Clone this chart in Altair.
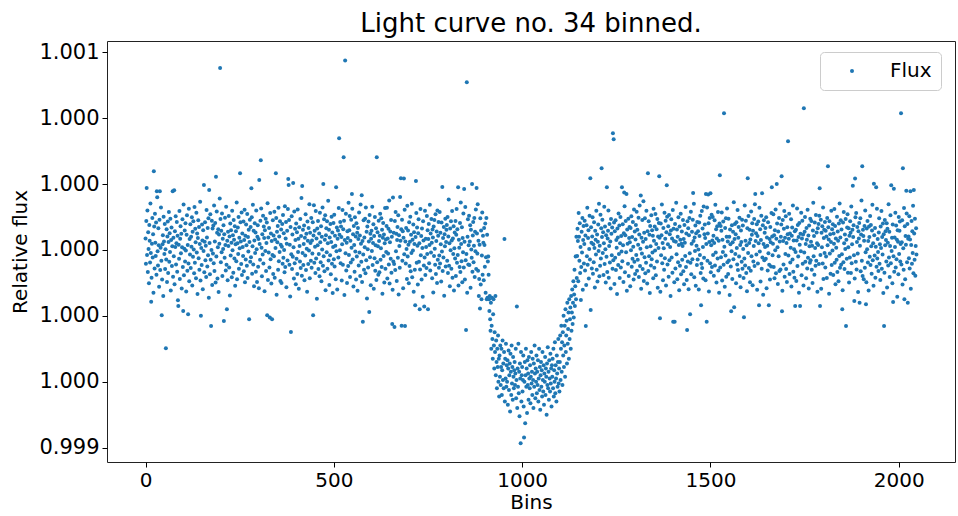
import altair as alt
import pandas as pd

# Relative flux, in parts per million from 1.0, one value per bin
pre_1 = [
    35, -42, 88, 12, -15, 120, -67, 54, 3, -101, 76, 28, -38, 141, -9, 62, -84, 19, 97, -23,
    48, -130, 5, 71, -56, 110, 22, -18, 83, -75, 39, 160, -4, -47, 66, 14, -112, 92, 31, -61,
    7, 129, -33, 58, -90, 17, 45, -140, 101, 26, -12, 79, -58, 2, 134, -29, 63, -97, 41, 86,
    -70, 24, 115, -36, 51, -6, 95, -123, 30, 68, -49, 11, 152, -81, 37, -19, 74, -104, 57, 9,
    102, -44, 20, 85, -66, 43, -153, 61, 16, -27, 118, -88, 34, 72, -10, 49, -117, 8, 93, -52,
    27, 138, -77, 4, 59, -35, 81, -2, -126, 46, 105, -63, 15, 69, -41, 125, -95, 33, -14, 78,
    -55, 40, 10, 99, -108, 55, -21, 87, 1, -71, 130, -39, 64, 23, -86, 113, -8, 50, -134, 36,
    90, -25, 70, -60, 18, 146, -93, 42, 6, -46, 77, 29, -119, 60, -3, 107, -68, 25, 84, -31,
    13, -82, 121, 38, -50, 67, -16, 96, -145, 53, 21, -74, 108, -30, 44, 0, 89, -106, 65, -11,
    74, -40, 135, -64, 26, 82, -99, 32, -20, 117, 52, -87, 8, 63, -128, 47, 19, 156, -54, 94,
    -37, 58, -7, 111, -79, 34, 3, 75, -115, 48, -24, 98, 15, -62, 131, -45, 66, 28, -92, 55,
    12, 103, -53, 41, -138, 80, -17, 60, 22, -83, 119, -1, 45, -69, 91, 31, -26, 72, -109, 17,
    57, -34, 144, -89, 20, 68, -12, 100, -57, 37, 5, -121, 84, 26, -43, 114, -76, 50, 9, -18,
    86, -65, 30, 122, -98, 43, -29, 77, 14, -48, 109, -85, 39, -5, 61, -132, 24, 92, -36, 70,
    -22, 46, 99, -72, 11, 137, -44, 58, -110, 29, 81, -9, 53, -66, 120, 2, -97, 40, 75, -51,
]
pre_2 = [
    33, -116, 64, 18, -30, 89, -59, 126, 7, -80, 48, -14, 104, -41, 71, 36, -125, 60, -3, 95,
    -64, 21, 83, -37, 142, -91, 38, -8, 67, -53, 15, 112, -28, 50, -102, 27, 78, -15, 90, -73,
    44, -19, 116, -84, 32, 6, -47, 97, -136, 55, 23, 73, -60, 128, -34, 41, -6, 87, -94, 16,
    62, -100, 10, 79, -42, 106, -24, 51, 0, -68, 133, -52, 35, 85, -113, 19, 58, -32, 124, -77,
    25, 91, -45, 16, -141, 70, 39, -13, 102, -58, 47, -21, 76, 8, -87, 117, -40, 64, 30, -104,
    80, -27, 54, -73, 123, -6, 34, -118, 69, 12, -35, 94, -55, 42, 158, -78, 25, -9, 61, -46,
    18, 74, -92, 37, -17, 108, -61, 49, 4, -127, 86, 28, -43, 67, -2, 139, -86, 52, 21, -33,
    97, -54, 29, -11, 84, -103, 44, 136, -39, 58, 10, -70, 118, -26, 35, -148, 65, 14, 88, -58,
    -12, 50, -80, 113, 23, -37, 72, -95, 40, 1, 129, -48, 56, -19, 93, -65, 31, 105, -122, 45,
    66, -7, 87, -57, 20, 149, -32, 61, -106, 38, -16, 79, -74, 24, 101, -42, 53, -131, 9, 82,
    -28, 107, -50, 43, 13, -89, 96, -4, 68, -120, 34, 59, -23, 127, -67, 46, -1, 85, -40, 71,
    39, -93, 17, 121, -45, 63, -26, 89, -137, 30, 76, -10, 110, -62, 22, -100, 57, 36, -49, 143,
    -15, 60, 103, -82, 28, -38, 92, 7, -56, 125, -29, 48, -111, 73, 15, -66, 99, -5, 41, -90,
    81, -20, 52, -124, 67, 33, -47, 114, -8, 44, -79, 138, 19, -36, 75, -97, 27, 62, -14, 90,
    -60, 38, 8, 95, -71, 129, -31, 55, -147, 71, 2, -53, 86, 26, -84, 106, -22, 49, -107, 34,
]
pre_3 = [
    58, -3, 131, -46, 21, 78, -118, 42, -25, 100, -63, 14, 66, -91, 118, -37, 54, 11, -75, 89,
    27, -68, 43, 110, -30, 5, 96, -52, 61, -133, 37, 82, -18, 47, -99, 20, 127, -57, 32, -6,
    73, 128, -87, 35, -11, 64, -44, 150, -102, 23, 56, -27, 91, -69, 40, 4, -121, 83, -35, 52,
    -43, 19, 88, -61, 115, -4, 49, -94, 30, 70, -24, 105, -135, 45, 12, -54, 98, 28, -78, 63,
    10, 92, -33, 57, -116, 37, 80, -13, 122, -72, 26, -41, 67, 3, -88, 134, -20, 59, 16, -101,
    84, -49, 25, 101, -65, 46, -9, 140, -83, 31, -2, 77, -127, 54, 18, -60, 90, 39, -28, 112,
    -39, 68, 13, -105, 51, 93, -36, 20, 74, -59, 124, -16, 42, -90, 65, 6, -142, 87, 29, -47,
    47, -23, 119, -76, 34, 9, -55, 103, -12, 60, -119, 33, 79, -40, 15, 137, -62, 50, -8, 94,
    22, -86, 62, 38, -129, 71, -18, 91, 4, -45, 108, -73, 27, 56, -100, 120, -30, 43, 85, -54,
    -17, 115, -41, 52, 17, -96, 83, -5, 132, -64, 36, -23, 70, -139, 48, 11, 95, -50, 24, 61,
    76, -33, 100, -70, 41, 153, -48, 20, -110, 65, -1, 87, -57, 29, 118, -84, 35, -12, 72, -123,
    5, 53, -26, 88, -79, 46, 124, -39, 63, -15, 99, -108, 31, 7, -52, 82, -67, 144, 18, -34,
    69, -98, 36, -7, 111, -53, 57, 25, -90, 130, -31, 48, -12, 78, -130, 40, 93, -44, 14, 104,
    -46, 26, 75, -115, 61, 1, -24, 109, -66, 44, 85, -37, 13, 97, -82, 55, -4, 123, -58, 30,
    50, -11, 139, -63, 28, -140, -88, 16, -38, 96, -105, 59, -150, -17, 114, -75, 43, 22, -92, 67,
    15, -51, 80, -130, -22, 97, -150, 46, -145, -35,
]
ingress = [
    -20, -75, -150, -185, -140, -210, -245, -160, -300, -230,
    -145, -270, -330, -195, -150, -290, -360, -250, -310, -140,
    -380, -275, -340, -420, -300, -355, -260, -400, -330, -445,
]
bottom = [
    -320, -385, -290, -410, -355, -300, -440, -365, -275, -395, -345, -420, -310, -375, -460, -330, -390, -285, -415, -350,
    -400, -335, -470, -360, -305, -425, -380, -345, -490, -315, -370, -440, -290, -405, -355, -455, -325, -385, -420, -365,
    -340, -410, -375, -300, -450, -395, -330, -480, -360, -415, -285, -435, -370, -505, -345, -390, -425, -310, -460, -380,
    -355, -430, -395, -320, -475, -365, -400, -340, -445, -380, -300, -415, -360, -495, -335, -410, -375, -455, -325, -390,
    -420, -350, -465, -385, -310, -405, -370, -440, -330, -395, -480, -345, -415, -290, -375, -450, -360, -400, -320, -435,
    -370, -410, -335, -460, -390, -300, -425, -355, -485, -380, -340, -415, -365, -445, -310, -395, -430, -350, -470, -375,
    -400, -325, -440, -360, -385, -500, -345, -410, -295, -420, -370, -455, -335, -390, -430, -315, -405, -360, -475, -350,
    -385, -330, -420, -300, -445, -365, -400, -280, -435, -350, -390, -460, -320, -375, -415, -340, -270, -405, -360, -430,
]
egress = [
    -340, -260, -395, -300, -230, -370, -280, -410, -250, -320,
    -200, -355, -290, -230, -385, -180, -310, -260, -215, -345,
    -160, -285, -240, -190, -330, -150, -270, -210, -175, -300,
    -140, -245, -190, -120, -225, -160, -95, -205, -135, -60,
    -170, -110, -20, -150, 40, -85,
]
post_1 = [
    -18, 64, 27, -95, 112, 40, -33, 81, -70, 9, 136, -52, 55, -8, 97, -121, 30, 73, -41, 18,
    89, -62, 44, 11, -106, 75, -19, 128, -45, 36, 60, -87, 3, 104, -29, 51, -138, 69, 22, -56,
    41, 99, -72, 17, -37, 84, 6, -114, 58, 31, -14, 119, -60, 47, -96, 25, 77, -3, 140, -80,
    13, -48, 107, -26, 66, -128, 39, 92, -9, 54, -76, 20, 131, -43, 71, 2, -99, 45, -21, 86,
    -67, 35, 58, 120, -84, 12, 79, -38, 26, -117, 94, 49, -16, 68, -57, 142, -31, 16, 83, -103,
    57, -24, 90, -61, 30, 7, -134, 65, 38, -46, 111, -12, 74, -85, 20, 100, -53, 42, -5, 127,
    -34, 78, 14, -97, 51, -20, 133, -68, 45, 88, -7, 29, -124, 62, 19, -42, 95, -79, 36, 70,
    23, -110, 67, -1, 102, -51, 39, -27, 85, 10, -90, 123, -36, 56, -73, 32, 76, -15, 116, -63,
    61, -30, 16, 98, -82, 47, 135, -49, 4, 69, -118, 37, -11, 91, -58, 25, 148, -94, 52, -22,
    96, -71, 33, -39, 119, 8, -102, 57, 24, -64, 87, -19, 46, -131, 73, 11, -47, 105, -28, 60,
    -8, 43, -86, 125, 28, -54, 71, -2, 109, -77, 18, 63, -35, 94, -115, 41, 6, 82, -66, 37,
    52, -127, 80, -16, 45, 138, -40, 21, -92, 67, 5, -60, 113, -25, 34, 89, -108, 54, -6, 101,
    -44, 17, 72, -81, 106, -31, 48, 9, -140, 59, 93, -23, 35, -69, 121, -11, 64, 27, -98, 44,
    79, -56, 25, 143, -13, 62, -89, 40, -37, 99, 15, -122, 71, -48, 31, 110, -74, 19, 56, -30,
    12, 91, -65, 33, -104, 76, 22, -18, 130, -52, 50, -91, 4, 87, -35, 66, -119, 45, 97, -10,
]
post_2 = [
    68, -39, 116, -74, 19, 55, -28, 92, -60, 27, 140, -83, 38, -3, 74, -109, 51, 13, -46, 85,
    -29, 57, 1, -120, 83, 42, -15, 104, -70, 30, -42, 118, -55, 65, 9, -87, 132, -24, 48, 77,
    36, -92, 65, 18, -58, 129, -33, 50, -11, 81, -126, 24, 97, -40, 60, -68, 14, 107, -52, 29,
    100, -15, 43, -78, 21, 90, -47, 137, -8, 63, -99, 35, 72, -26, 115, -62, 28, -130, 80, 4,
    -53, 73, -22, 58, 114, -93, 31, -6, 86, -45, 49, 10, -112, 67, -17, 96, -81, 40, 126, -37,
    26, -73, 95, -32, 40, -137, 62, 17, -50, 108, -4, 75, -88, 23, 55, -28, 145, -65, 33, 79,
    -12, 48, -101, 84, 6, -44, 121, -61, 37, 70, -20, 98, -79, 15, -113, 59, 24, -36, 92, -57,
    74, 3, -85, 52, -26, 135, -47, 28, 89, -70, 14, -125, 66, 39, -9, 103, -55, 21, 61, -98,
    32, -63, 117, -19, 46, 81, -107, 58, -35, 12, 94, -49, 139, -82, 27, 51, -14, 78, -121, 42,
    -41, 86, 20, -68, 128, -5, 63, -96, 30, 104, -57, 44, -23, 75, -136, 18, 90, -31, 52, 9,
    67, -27, 99, -116, 38, 13, -62, 84, -10, 146, -45, 33, -90, 70, 23, -50, 112, -75, 41, -16,
    19, 108, -52, 45, -86, 60, -1, 123, -71, 34, -30, 80, 8, -103, 56, -19, 97, -64, 26, 140,
    -59, 40, 77, -35, 15, -124, 91, 27, -44, 64, 118, -81, 37, -12, 102, -58, 21, -97, 69, 48,
    85, -17, 34, 110, -73, 50, -38, 7, 93, -111, 43, 68, -29, 135, -66, 29, 2, -84, 57, -23,
    -6, 61, -94, 29, 126, -49, 76, -20, 39, -130, 82, 16, -62, 49, -4, 113, -77, 35, 89, -42,
]
post_3 = [
    47, -108, 70, -8, 55, 100, -36, 18, -86, 67, 31, -56, 122, -24, 44, -117, 74, 11, -39, 95,
    -31, 25, 88, -60, 13, -100, 59, 143, -19, 42, -75, 83, 6, -48, 106, -33, 53, 20, -127, 66,
    15, 79, -43, 104, -67, 26, -15, 92, -118, 52, 8, 72, -41, 129, -88, 36, 61, -9, 85, -53,
    58, -20, 41, -85, 97, 14, -57, 69, 32, -133, 87, -11, 48, -72, 24, 119, -46, 63, -2, 78,
    -76, 50, 19, 124, -39, 73, -104, 35, 7, -30, 101, -67, 56, 28, -95, 80, -18, 141, -54, 38,
    90, -45, 62, -13, 29, -122, 83, -37, 115, 20, -58, 47, 3, 94, -80, 31, -27, 68, 108, -69,
    8, 66, -99, 43, -23, 87, 52, -70, 132, -40, 17, 61, -115, 39, 75, -16, 54, -87, 22, 99,
    -36, 112, -59, 24, 70, -11, -128, 57, 35, 82, -48, 13, 96, -65, 47, 150, -33, 18, -79, 61,
    42, -89, 28, 73, -54, 120, -7, 46, -98, 65, 2, 88, -38, 27, -123, 71, 39, -21, 103, -46,
    76, 11, -72, 59, 137, -31, 20, -109, 84, 45, -17, 67, -84, 10, 94, -51, 125, -26, 33, -6,
    -64, 53, 96, -42, 17, -91, 71, 6, 118, -57, 39, -14, 80, -131, 48, 26, -69, 91, 14, 57,
    30, -35, 81, -114, 64, 22, -47, 139, -23, 55, -82, 12, 105, -40, 69, -3, 37, -101, 77, 44,
    -19, 95, -66, 38, 9, 113, -53, 74, -28, 31, -142, 60, 25, -74, 100, -12, 58, 86, -35, 18,
    63, -44, 23, 90, -105, 49, 5, -60, 127, -21, 72, -89, 42, 16, -50, 111, -37, 79, -93, 34,
    41, -25, 102, -56, 32, 71, -118, 15, 88, -42, 57, -9, 134, -71, 27, 50, -30, 95, -78, 12,
    66, -14,
]

# Isolated points (bin, ppm)
spike_bins = [
    3, 22, 30, 38, 72, 76, 155, 169, 187, 198, 251, 281, 302, 306, 346, 379, 380, 392, 416, 472,
    506, 514, 526, 530, 548, 574, 614, 657, 676, 678, 686, 718, 788, 830, 846, 853, 867, 879,
    15, 43, 54, 87, 100, 113, 147, 174, 208, 216, 275, 323, 330, 336, 386, 445, 577, 594, 655,
    661, 680, 689, 716, 728, 740, 750, 851, 888,
    953, 986, 996, 1005, 1008,
    1181, 1211, 1225, 1241, 1243, 1265, 1271, 1277, 1315, 1334, 1364, 1384, 1454, 1488, 1494,
    1500, 1525, 1536, 1599, 1619, 1637, 1663, 1676, 1689, 1706, 1748, 1790, 1812, 1878, 1884,
    1903, 1934, 1940, 1980, 1987, 2006, 2011, 2020, 2031, 2040,
    1156, 1169, 1182, 1366, 1401, 1405, 1438, 1446, 1475, 1490, 1555, 1563, 1589, 1629, 1655,
    1690, 1725, 1738, 1791, 1850, 1860, 1882, 1896, 1913, 1961, 1985, 2015, 2024,
]
spike_ppm = [
    188, 239, 178, 178, 178, 181, 197, 182, 222, 552, 233, 187, 212, 272, 233, 215, 197, 203, 194, 200,
    190, 339, 281, 575, 170, 166, 281, 159, 161, 218, 217, 209, 191, 190, 185, 509, 200, 188,
    -157, -198, -298, -170, -185, -195, -200, -231, -216, -180, -210, -198, -205, -210, -249, -198, -218, -188, -225,
    -234, -230, -231, -168, -180, -172, -180, -243, -178,
    33, -172, -587, -569, -526,
    218, 248, 190, 354, 336, 190, 174, 170, 165, 233, 224, 196, 173, 170, 168,
    172, 227, 415, 218, 170, 172, 190, 200, 224, 330, 430, 187, 254, 195, 217,
    254, 201, 190, 196, 186, 415, 248, 180, 178, 182,
    -152, -231, -182, -207, -218, -218, -243, -195, -168, -218, -186, -174, -204, -168, -168,
    -186, -170, -170, -170, -180, -231, -155, -160, -165, -231, -158, -150, -160,
]

x_ticks = [0, 500, 1000, 1500, 2000]
y_ticks = [0.9994, 0.9996, 0.9998, 1.0, 1.0002, 1.0004, 1.0006]

ppm = pre_1 + pre_2 + pre_3 + ingress + bottom + egress + post_1 + post_2 + post_3
for b, v in zip(spike_bins, spike_ppm):
    if b < len(ppm):
        ppm[b] = v

n = len(ppm)
df = pd.DataFrame({
    "bin": list(range(n)),
    "flux": [1.0 + v * 1e-6 for v in ppm],
    "series": ["Flux"] * n,
})

FONT = "DejaVu Sans"

chart = alt.Chart(df).mark_circle(size=16, opacity=1).encode(
    x=alt.X(
        "bin:Q",
        scale=alt.Scale(domain=[-0.05 * (n - 1), 1.05 * (n - 1)], nice=False, zero=False),
        axis=alt.Axis(values=x_ticks, title="Bins", format="d", labelFlush=False, titlePadding=2),
    ),
    y=alt.Y(
        "flux:Q",
        scale=alt.Scale(domain=[0.9993564, 1.0006342], nice=False, zero=False),
        axis=alt.Axis(values=y_ticks, format=".3f", title="Relative flux", titlePadding=8,
                      labelFontSize=21),
    ),
    color=alt.Color(
        "series:N",
        scale=alt.Scale(domain=["Flux"], range=["#1f77b4"]),
        title=None,
        legend=alt.Legend(
            orient="none", legendX=713, legendY=11, direction="vertical",
            fillColor="white", strokeColor="#cccccc", cornerRadius=4, padding=9,
            labelFontSize=20, labelFont=FONT, labelColor="black",
            symbolType="circle", symbolSize=16, symbolStrokeWidth=0,
            symbolOffset=13, labelOffset=28,
        ),
    ),
).properties(
    width=848,
    height=421,
    title=alt.TitleParams(
        "Light curve no. 34 binned.", fontSize=26, font=FONT, fontWeight="normal",
        color="black", anchor="middle", baseline="alphabetic", offset=8, dy=25,
    ),
    autosize=alt.AutoSizeParams(type="none"),
    padding={"left": 107, "top": 41, "right": 3, "bottom": 54},
).configure_view(
    stroke="#222222", strokeWidth=1,
).configure_axis(
    grid=False, domain=False,
    tickColor="black", tickSize=5, tickWidth=1,
    labelFont=FONT, labelFontSize=20, labelColor="black", labelPadding=3,
    titleFont=FONT, titleFontSize=20, titleColor="black", titleFontWeight="normal",
)

chart.save("out.html", embed_options={"renderer": "svg", "actions": False})
